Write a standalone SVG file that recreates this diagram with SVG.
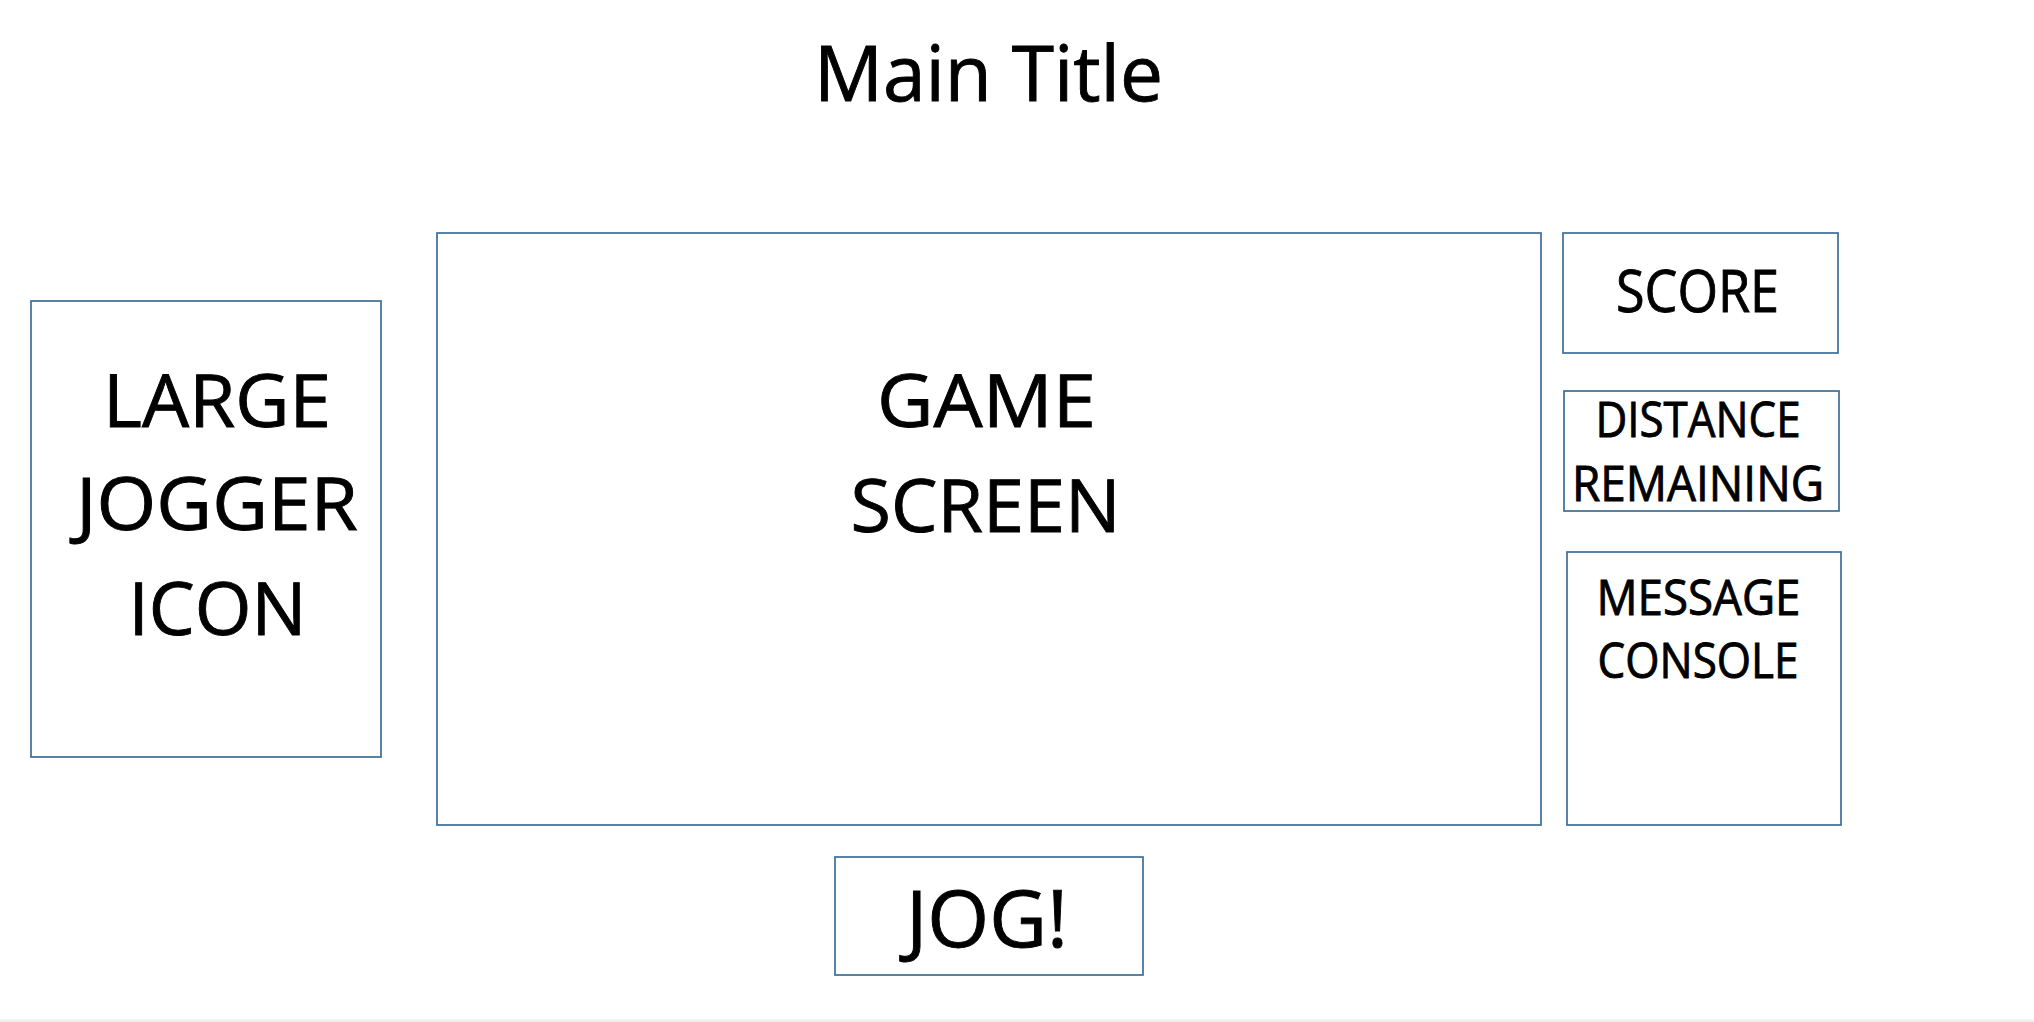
<svg xmlns="http://www.w3.org/2000/svg" width="2034" height="1022" viewBox="0 0 2034 1022">
<style>
.box{fill:#ffffff;stroke:#41719c;stroke-width:1.75}
.t{font-family:"Open Sans","Noto Sans","Liberation Sans",sans-serif;fill:#000000;stroke:#000000;stroke-width:0.9;text-anchor:middle}
</style>
<rect x="0" y="0" width="2034" height="1022" fill="#ffffff"/>
<rect x="0" y="1019.5" width="2034" height="2.5" fill="#efefef"/>
<g id="title">
<text class="t" x="988.5" y="101" font-size="76" textLength="349" lengthAdjust="spacingAndGlyphs">Main Title</text>
</g>
<g id="jogger-icon">
<rect class="box" x="31" y="301" width="350" height="456"/>
<text class="t" x="217" y="427" font-size="74" textLength="228" lengthAdjust="spacingAndGlyphs">LARGE</text>
<text class="t" x="217" y="530" font-size="74" textLength="282" lengthAdjust="spacingAndGlyphs">JOGGER</text>
<text class="t" x="217.5" y="635" font-size="74" textLength="178" lengthAdjust="spacingAndGlyphs">ICON</text>
</g>
<g id="game-screen">
<rect class="box" x="437" y="233" width="1104" height="592"/>
<text class="t" x="986.5" y="427" font-size="74" textLength="219" lengthAdjust="spacingAndGlyphs">GAME</text>
<text class="t" x="985.5" y="532" font-size="74" textLength="270" lengthAdjust="spacingAndGlyphs">SCREEN</text>
</g>
<g id="score">
<rect class="box" x="1563" y="233" width="275" height="120"/>
<text class="t" x="1697.5" y="312" font-size="58" textLength="163" lengthAdjust="spacingAndGlyphs">SCORE</text>
</g>
<g id="distance-remaining">
<rect class="box" x="1564" y="391" width="275" height="120"/>
<text class="t" x="1698" y="437" font-size="50" textLength="205" lengthAdjust="spacingAndGlyphs">DISTANCE</text>
<text class="t" x="1698" y="501" font-size="50" textLength="252" lengthAdjust="spacingAndGlyphs">REMAINING</text>
</g>
<g id="message-console">
<rect class="box" x="1567" y="552" width="274" height="273"/>
<text class="t" x="1698.5" y="615" font-size="50" textLength="204" lengthAdjust="spacingAndGlyphs">MESSAGE</text>
<text class="t" x="1698" y="678" font-size="50" textLength="201" lengthAdjust="spacingAndGlyphs">CONSOLE</text>
</g>
<g id="jog-button">
<rect class="box" x="835" y="857" width="308" height="118"/>
<text class="t" x="987" y="947" font-size="78" textLength="162" lengthAdjust="spacingAndGlyphs">JOG!</text>
</g>
<g id="connectors"></g>
</svg>
